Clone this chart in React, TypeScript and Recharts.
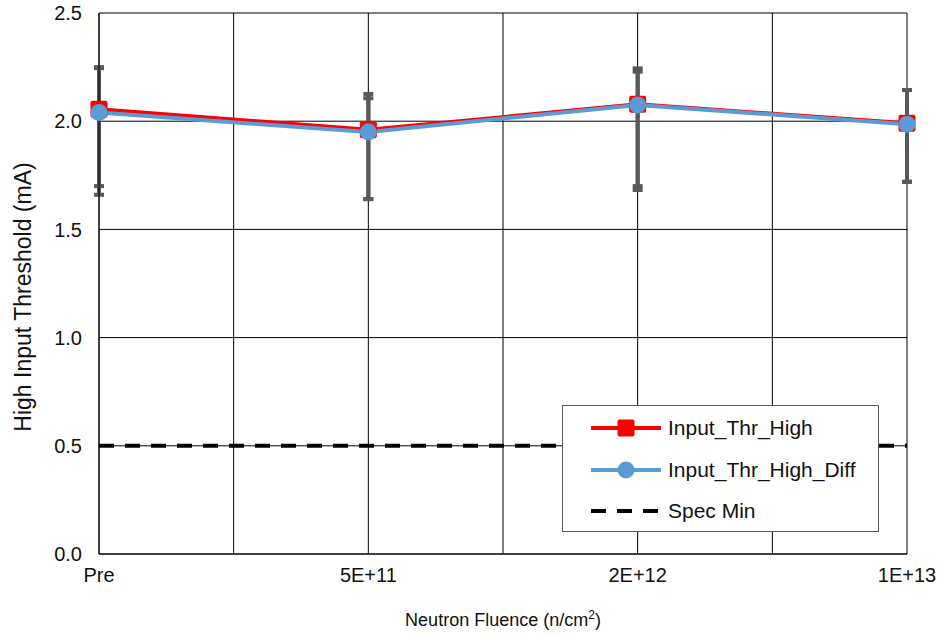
import React from "react";
import { CartesianGrid, ErrorBar, Line, LineChart, XAxis, YAxis } from "recharts";

const categories = ["Pre", "5E+11", "2E+12", "1E+13"];
const thrHigh = [2.055, 1.96, 2.078, 1.99];
const thrHighDiff = [2.04, 1.95, 2.075, 1.986];
const thrHighUpper = [2.25, 2.126, 2.244, 2.144];
const thrHighLower = [1.70, 1.64, 1.70, 1.72];
const thrHighDiffUpper = [2.245, 2.106, 2.229, 2.144];
const thrHighDiffLower = [1.66, 1.64, 1.682, 1.72];
const specMin = [0.5, 0.5, 0.5, 0.5];
const yTicks = [0, 0.5, 1, 1.5, 2, 2.5];
const xTicks = [0, 0.5, 1, 1.5, 2, 2.5, 3];

const RED = "#FF0000";
const BLUE = "#5B9BD5";
const GRAY = "#595959";
const FONT = "'Liberation Sans', Arial, sans-serif";

const rows = categories.map((label, i) => ({
  x: i,
  label,
  high: thrHigh[i],
  diff: thrHighDiff[i],
  spec: specMin[i],
  highErr: [thrHigh[i] - thrHighLower[i], thrHighUpper[i] - thrHigh[i]],
  diffErr: [thrHighDiff[i] - thrHighDiffLower[i], thrHighDiffUpper[i] - thrHighDiff[i]],
}));

const SquareDot = (props: any) => {
  const { cx, cy, index } = props;
  if (cx == null || cy == null) return null;
  return <rect key={`sq-${index}`} x={cx - 8.5} y={cy - 8.5} width={17} height={17} rx={2} fill={RED} />;
};

const XTitle = (props: any) => {
  const vb = props.viewBox;
  const cx = vb.x + vb.width / 2;
  return (
    <text x={cx} y={626} textAnchor="middle" fill="#111" fontSize={18} fontFamily={FONT}>
      Neutron Fluence (n/cm
      <tspan dy={-7} fontSize={12}>2</tspan>
      <tspan dy={7}>)</tspan>
    </text>
  );
};

const YTitle = () => {
  const cy = 297;
  return (
    <text
      x={31}
      y={cy}
      transform={`rotate(-90, 31, ${cy})`}
      textAnchor="middle"
      fill="#111"
      fontSize={23}
      fontFamily={FONT}
    >
      High Input Threshold (mA)
    </text>
  );
};

const legendItems = [
  { name: "Input_Thr_High", kind: "square" },
  { name: "Input_Thr_High_Diff", kind: "circle" },
  { name: "Spec Min", kind: "dash" },
];

function LegendBox() {
  return (
    <div
      style={{
        position: "absolute",
        left: 562,
        top: 405,
        width: 317,
        height: 127,
        boxSizing: "border-box",
        background: "#fff",
        border: "1.5px solid #595959",
        fontFamily: FONT,
        fontSize: 21,
        color: "#111",
      }}
    >
      {legendItems.map((item, i) => (
        <div
          key={item.name}
          style={{ position: "absolute", left: 27, top: 10 + i * 41.5, height: 24, display: "flex", alignItems: "center" }}
        >
          <svg width={72} height={24} style={{ display: "block" }}>
            {item.kind === "dash" ? (
              <line x1={1} y1={12} x2={71} y2={12} stroke="#000" strokeWidth={4} strokeDasharray="15 11" />
            ) : (
              <line x1={1} y1={12} x2={71} y2={12} stroke={item.kind === "square" ? RED : BLUE} strokeWidth={4} />
            )}
            {item.kind === "square" && <rect x={27.5} y={3.5} width={17} height={17} rx={2} fill={RED} />}
            {item.kind === "circle" && <circle cx={36} cy={12} r={8.5} fill={BLUE} />}
          </svg>
          <span style={{ marginLeft: 6, whiteSpace: "nowrap" }}>{item.name}</span>
        </div>
      ))}
    </div>
  );
}

export default function App() {
  return (
    <div style={{ position: "relative", width: 942, height: 637, background: "#fff" }}>
      <style>{"body{margin:0}"}</style>
      <LineChart width={942} height={637} data={rows} margin={{ top: 13, right: 35, left: 39, bottom: 23 }}>
        <CartesianGrid stroke="#000" strokeWidth={1} />
        <XAxis
          type="number"
          dataKey="x"
          domain={[0, 3]}
          ticks={xTicks}
          interval={0}
          tickFormatter={(v: number) => (Number.isInteger(v) ? categories[v] : "")}
          tickLine={false}
          tickSize={0}
          tickMargin={14}
          axisLine={{ stroke: "#000", strokeWidth: 1 }}
          tick={{ fill: "#111", fontSize: 20, fontFamily: FONT }}
          height={60}
          label={<XTitle />}
        />
        <YAxis
          type="number"
          domain={[0, 2.5]}
          ticks={yTicks}
          interval={0}
          tickFormatter={(v: number) => v.toFixed(1)}
          tickLine={false}
          tickSize={0}
          tickMargin={17}
          axisLine={{ stroke: "#000", strokeWidth: 1 }}
          tick={{ fill: "#111", fontSize: 20, fontFamily: FONT }}
          width={60}
          label={<YTitle />}
        />
        {/* error bars go underneath the marker lines */}
        <Line dataKey="high" stroke="none" dot={false} activeDot={false} legendType="none" isAnimationActive={false}>
          <ErrorBar dataKey="highErr" direction="y" width={5} strokeWidth={4} stroke={GRAY} />
        </Line>
        <Line dataKey="diff" stroke="none" dot={false} activeDot={false} legendType="none" isAnimationActive={false}>
          <ErrorBar dataKey="diffErr" direction="y" width={5} strokeWidth={4} stroke={GRAY} />
        </Line>
        <Line
          dataKey="spec"
          stroke="#000"
          strokeWidth={4}
          strokeDasharray="15 11"
          dot={false}
          activeDot={false}
          isAnimationActive={false}
        />
        <Line
          dataKey="high"
          stroke={RED}
          strokeWidth={4}
          dot={<SquareDot />}
          activeDot={false}
          isAnimationActive={false}
        />
        <Line
          dataKey="diff"
          stroke={BLUE}
          strokeWidth={4}
          dot={{ r: 8.5, fill: BLUE, stroke: BLUE, strokeWidth: 0 }}
          activeDot={false}
          isAnimationActive={false}
        />
      </LineChart>
      <LegendBox />
    </div>
  );
}
